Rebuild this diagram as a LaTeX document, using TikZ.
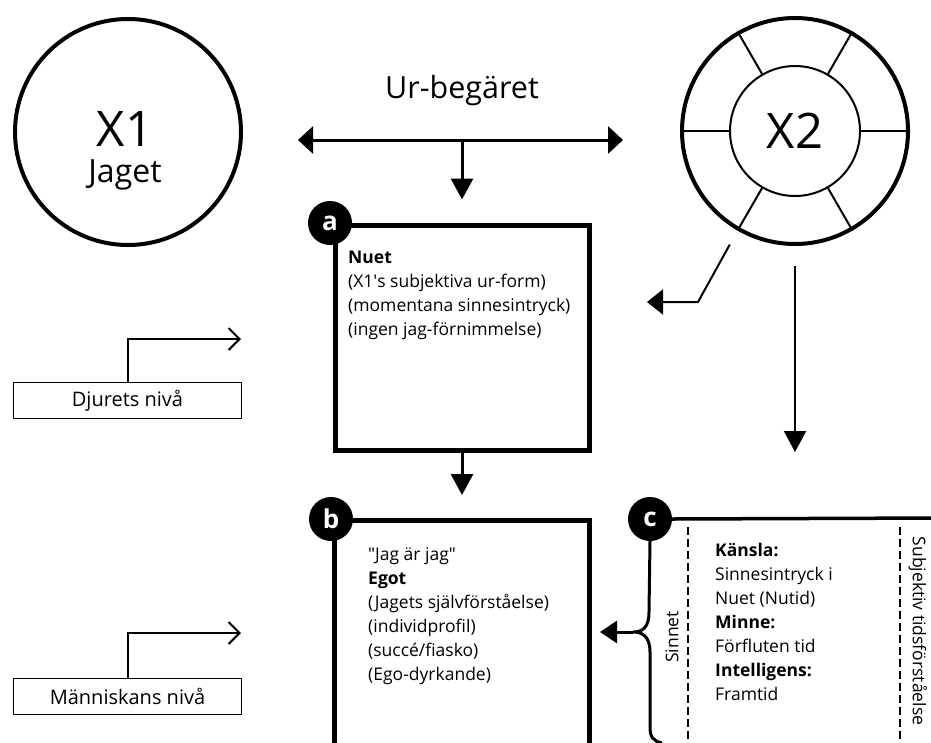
\documentclass[tikz,border=0pt]{standalone}
\usepackage{fontspec}
\setmainfont{Open Sans}
\usetikzlibrary{arrows.meta,positioning}
\tikzset{
    %Define standard arrow tip
    >={Triangle[length=21pt,width=22pt]},
    %Define style for the two big circles
    bignode/.style={
             circle,
             draw=black, line width=4pt,
             minimum size=226pt, inner sep=0pt},
    %Define style for boxes a and b
    stagenode/.style={
             rectangle,
             draw=black, line width=5pt,
             inner sep=0pt},
    %Define style for the black letter discs
    tagnode/.style={
             circle,
             fill=black, text=white,
             minimum size=44pt, inner sep=0pt,
             font=\fontsize{26}{26}\selectfont\bfseries},
    %Define style for the level boxes
    levelnode/.style={
             rectangle,
             draw=black, line width=1.6pt,
             minimum width=228pt, minimum height=36pt,
             inner sep=0pt,
             font=\fontsize{20}{20}\selectfont},
    %Define style for text in the boxes
    textnode/.style={
             align=left, inner sep=0pt,
             anchor=north west,
             font=\fontsize{17.5}{24}\selectfont},
    % Define arrow style
    mainarrow/.style={
            ->,
            line width=3pt},
    thinarrow/.style={
            -{Triangle[length=16pt,width=25pt]},
            line width=2pt},
    levelarrow/.style={
            -{Straight Barb[length=11pt,width=22pt]},
            line width=2pt},
    dividerline/.style={
            dash pattern=on 8pt off 4pt,
            line width=2pt}
}

\begin{document}
\begin{tikzpicture}[x=1pt, y=-1pt, node distance=6pt]
 \useasboundingbox (0,0) rectangle (931,742);
 \clip (0,0) rectangle (931,742);
 % the two circles
 \node[bignode] (x1) at (128,132) {};
 \node[font=\fontsize{49}{49}\selectfont] (x1lab) at (125,129) {X1};
 \node[font=\fontsize{32}{32}\selectfont, anchor=base] (jaget) at ([yshift=-36pt]x1lab.base) {Jaget};
 \node[bignode] (x2) at (795,131) {};
 \node[circle, draw=black, line width=2pt, minimum size=130pt, inner sep=0pt,
       font=\fontsize{49}{49}\selectfont] (x2in) at (795,131) {X2};
 \foreach \a in {0,60,120,180,240,300}
   \draw[line width=2pt] (x2in.\a) -- (x2.\a);
 % Ur-begaret
 \node[font=\fontsize{30.5}{30.5}\selectfont] (ur) at (462,91) {Ur-begäret};
 \coordinate (urL) at (298,140);
 \coordinate (urR) at (623,140);
 \coordinate (urM) at (462,140);
 \draw[{Triangle[length=15pt,width=27pt]}-{Triangle[length=15pt,width=27pt]}, line width=3pt] (urL) -- (urR);
 % boxes a and b
 \node[stagenode, minimum width=254pt, minimum height=225pt] (boxa) at (462,337.5) {};
 \node[stagenode, minimum width=255pt, minimum height=260pt] (boxb) at (462,650.5) {};
 \node[tagnode] (taga) at (330,223) {a};
 \node[tagnode] (tagb) at (331,519) {b};
 \node[textnode] (texta) at (348,251) {\textbf{Nuet}\\(X1\textquotesingle s subjektiva ur-form)\\(momentana sinnesintryck)\\(ingen jag-förnimmelse)};
 \node[textnode] (textb) at (368,547) {\textquotedbl Jag är jag\textquotedbl\\\textbf{Egot}\\(Jagets självförståelse)\\(individprofil)\\(succé/fiasko)\\(Ego-dyrkande)};
 % box c
 \node[tagnode] (tagc) at (650,519) {c};
 \coordinate (cend) at (940,518);
 \draw[line width=3.5pt] (tagc.east) -- (cend);
 \coordinate (bracept) at (633,632);
 \coordinate (bracetip) at (600,632);
 \draw[line width=3pt] (tagc.south) -- (649,612) .. controls (649,627) and (643,632) .. (bracept)
       .. controls (643,632) and (650,637) .. (650,652) -- (650,727)
       .. controls (650,737) and (653,741) .. (662,743);
 \draw[dividerline] (688,527) -- (688,745);
 \draw[dividerline] (900,527) -- (900,745);
 \node[rotate=90, font=\fontsize{17.5}{17.5}\selectfont] (sinnet) at (672,637) {Sinnet};
 \node[rotate=-90, font=\fontsize{17.5}{17.5}\selectfont] (subj) at (918,631) {Subjektiv tidsförståelse};
 \node[textnode] (textc) at (715,543) {\textbf{Känsla:}\\Sinnesintryck i\\Nuet (Nutid)\\\textbf{Minne:}\\Förfluten tid\\\textbf{Intelligens:}\\Framtid};
 % level boxes
 \node[levelnode] (djur) at (127.5,400.5) {Djurets nivå};
 \node[levelnode] (manni) at (127.5,696.5) {Människans nivå};
 \coordinate (djurtip) at (241,339);
 \coordinate (mannitip) at (241,633);
 \coordinate (x2bend) at (698,302);
 \coordinate (x2tip) at (647,302);
 \coordinate (x2down) at (795,452);
 % connectors
 \draw[mainarrow, shorten >=23pt] (urM) -- (boxa.north);
 \draw[mainarrow, shorten >=23pt] (boxa.south) -- (boxb.north);
 \draw[thinarrow, shorten <=16pt] (x2.240) -- (x2bend) -- (x2tip);
 \draw[->, line width=2pt, shorten <=20pt] (x2.south) -- (x2down);
 \draw[{Triangle[length=17pt,width=22pt]}-, line width=3pt] (bracetip) -- (bracept);
 \draw[levelarrow] (djur.north) |- (djurtip);
 \draw[levelarrow] (manni.north) |- (mannitip);
\end{tikzpicture}
\end{document}
